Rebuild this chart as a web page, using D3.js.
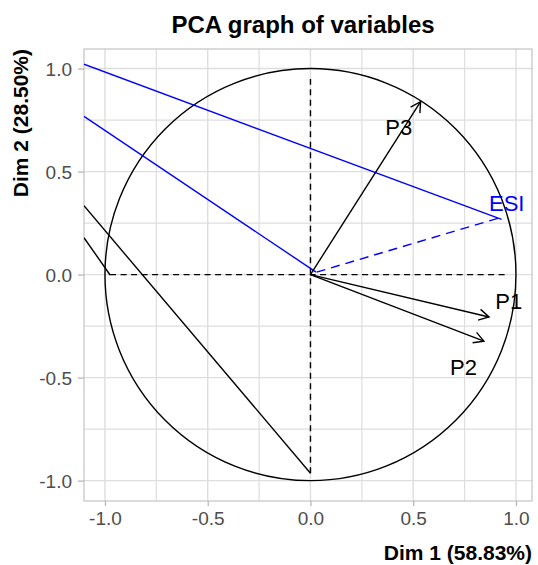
<!DOCTYPE html>
<html>
<head>
<meta charset="utf-8">
<script src="https://cdn.jsdelivr.net/npm/d3@7"></script>
<style>
  body { margin: 0; background: #fff; }
  text { font-family: "Liberation Sans", Arial, sans-serif; }
</style>
</head>
<body>
<div id="chart"></div>
<script>
// axis setup
const xDomain = [-1.102, 1.078];
const yDomain = [-1.099, 1.095];
const majorTicks = [-1.0, -0.5, 0.0, 0.5, 1.0];
const minorTicks = [-0.75, -0.25, 0.25, 0.75];

// active variables (arrow tips)
const variables = ['P1', 'P2', 'P3'];
const varX = [0.869, 0.844, 0.536];
const varY = [-0.206, -0.323, 0.839];
const labelX = [0.965, 0.745, 0.43];
const labelY = [-0.13, -0.45, 0.715];

// supplementary variable
const suppName = 'ESI';
const suppStart = [0.03, 0.012];
const suppEnd = [0.925, 0.277];
const suppLabel = [0.955, 0.345];

// axis dashed lines
const axisH = [[-0.975, 0], [0.955, 0]];
const axisV = [[0, -0.964], [0, 0.949]];

// stray segments that show in the picture
const blueSegments = [
  [[-1.102, 1.021], [0.93, 0.268]],
  [[-1.102, 0.768], [0.027, 0.012]],
];
const blackSegments = [
  [[-1.102, 0.334], [0.0, -0.964]],
  [[-1.102, 0.179], [-0.975, -0.002]],
];

const width = 538, height = 565;
const margin = {top: 49, right: 6, bottom: 64, left: 84};
const plotW = width - margin.left - margin.right;
const plotH = height - margin.top - margin.bottom;

const svg = d3.select('#chart').append('svg')
  .attr('width', width)
  .attr('height', height);

const x = d3.scaleLinear().domain(xDomain).range([0, plotW]);
const y = d3.scaleLinear().domain(yDomain).range([plotH, 0]);

const defs = svg.append('defs');
defs.append('clipPath').attr('id', 'clip')
  .append('rect').attr('width', plotW).attr('height', plotH);
defs.append('marker')
  .attr('id', 'head')
  .attr('markerUnits', 'userSpaceOnUse')
  .attr('viewBox', '-12 -7 14 14')
  .attr('markerWidth', 14).attr('markerHeight', 14)
  .attr('refX', 0).attr('refY', 0)
  .attr('orient', 'auto')
  .append('path')
    .attr('d', 'M-10,-5.5L0,0L-10,5.5')
    .attr('fill', 'none')
    .attr('stroke', '#000')
    .attr('stroke-width', 1.4);

const g = svg.append('g').attr('transform', `translate(${margin.left},${margin.top})`);

// ------------------------------------------------------------------------
// GRID
// ------------------------------------------------------------------------
const gridColor = '#dedede';
g.selectAll('.vgrid').data(majorTicks.concat(minorTicks)).enter()
  .append('line')
    .attr('x1', d => x(d)).attr('x2', d => x(d))
    .attr('y1', 0).attr('y2', plotH)
    .attr('stroke', gridColor)
    .attr('stroke-width', d => majorTicks.includes(d) ? 1.4 : 1.2);
g.selectAll('.hgrid').data(majorTicks.concat(minorTicks)).enter()
  .append('line')
    .attr('y1', d => y(d)).attr('y2', d => y(d))
    .attr('x1', 0).attr('x2', plotW)
    .attr('stroke', gridColor)
    .attr('stroke-width', d => majorTicks.includes(d) ? 1.4 : 1.2);

g.append('rect')
  .attr('width', plotW).attr('height', plotH)
  .attr('fill', 'none')
  .attr('stroke', '#c4c4c4')
  .attr('stroke-width', 1.2);

// ------------------------------------------------------------------------
// AXES
// ------------------------------------------------------------------------
const fmt = d => d.toFixed(1); // plain hyphen, like R
const xAxis = g.append('g')
  .attr('transform', `translate(0,${plotH})`)
  .call(d3.axisBottom(x).tickValues(majorTicks).tickFormat(fmt).tickSize(5).tickPadding(6));
const yAxis = g.append('g')
  .call(d3.axisLeft(y).tickValues(majorTicks).tickFormat(fmt).tickSize(6).tickPadding(6));
[xAxis, yAxis].forEach(a => {
  a.select('.domain').remove();
  a.selectAll('.tick line').attr('stroke', '#b3b3b3').attr('stroke-width', 1.2);
  a.selectAll('.tick text')
    .attr('fill', '#4d4d4d')
    .style('font-size', '19px')
    .style('font-family', '"Liberation Sans", Arial, sans-serif');
});
yAxis.selectAll('.tick text').attr('dy', '0.36em');

// ------------------------------------------------------------------------
// PLOT CONTENT
// ------------------------------------------------------------------------
const content = g.append('g').attr('clip-path', 'url(#clip)');

// correlation circle
content.append('ellipse')
  .attr('cx', x(0)).attr('cy', y(0))
  .attr('rx', x(1) - x(0)).attr('ry', y(0) - y(1))
  .attr('fill', 'none')
  .attr('stroke', '#000')
  .attr('stroke-width', 1.4);

// dashed axes
[axisH, axisV].forEach(seg => {
  content.append('line')
    .attr('x1', x(seg[0][0])).attr('y1', y(seg[0][1]))
    .attr('x2', x(seg[1][0])).attr('y2', y(seg[1][1]))
    .attr('stroke', '#000')
    .attr('stroke-width', 1.4)
    .attr('stroke-dasharray', '6,4.5');
});

const segLine = (sel, data, color) => sel.selectAll(null).data(data).enter()
  .append('line')
    .attr('x1', d => x(d[0][0])).attr('y1', d => y(d[0][1]))
    .attr('x2', d => x(d[1][0])).attr('y2', d => y(d[1][1]))
    .attr('stroke', color)
    .attr('stroke-width', 1.4);
segLine(content, blueSegments, '#0000ff');
segLine(content, blackSegments, '#000');

// supplementary variable
content.append('line')
  .attr('x1', x(suppStart[0])).attr('y1', y(suppStart[1]))
  .attr('x2', x(suppEnd[0])).attr('y2', y(suppEnd[1]))
  .attr('stroke', '#0000ff')
  .attr('stroke-width', 1.4)
  .attr('stroke-dasharray', '9,6');

// active variable arrows
content.selectAll('.arrow').data(variables).enter()
  .append('line')
    .attr('x1', x(0)).attr('y1', y(0))
    .attr('x2', (d, i) => x(varX[i])).attr('y2', (d, i) => y(varY[i]))
    .attr('stroke', '#000')
    .attr('stroke-width', 1.4)
    .attr('marker-end', 'url(#head)');

g.selectAll('.vlabel').data(variables).enter()
  .append('text')
    .attr('x', (d, i) => x(labelX[i])).attr('y', (d, i) => y(labelY[i]))
    .attr('text-anchor', 'middle')
    .attr('dy', '0.36em')
    .style('font-size', '22px')
    .attr('fill', '#000')
    .text(d => d);
g.append('text')
  .attr('x', x(suppLabel[0])).attr('y', y(suppLabel[1]))
  .attr('text-anchor', 'middle')
  .attr('dy', '0.36em')
  .style('font-size', '22px')
  .attr('fill', '#0000ff')
  .text(suppName);

// ------------------------------------------------------------------------
// TITLES
// ------------------------------------------------------------------------
svg.append('text')
  .attr('x', 303).attr('y', 33)
  .attr('text-anchor', 'middle')
  .style('font-size', '24px')
  .style('font-weight', 'bold')
  .text('PCA graph of variables');
svg.append('text')
  .attr('x', margin.left + plotW).attr('y', 560)
  .attr('text-anchor', 'end')
  .style('font-size', '21px')
  .style('font-weight', 'bold')
  .text('Dim 1 (58.83%)');
svg.append('text')
  .attr('transform', `translate(28,${margin.top}) rotate(-90)`)
  .attr('text-anchor', 'end')
  .style('font-size', '21px')
  .style('font-weight', 'bold')
  .text('Dim 2 (28.50%)');
</script>
</body>
</html>
